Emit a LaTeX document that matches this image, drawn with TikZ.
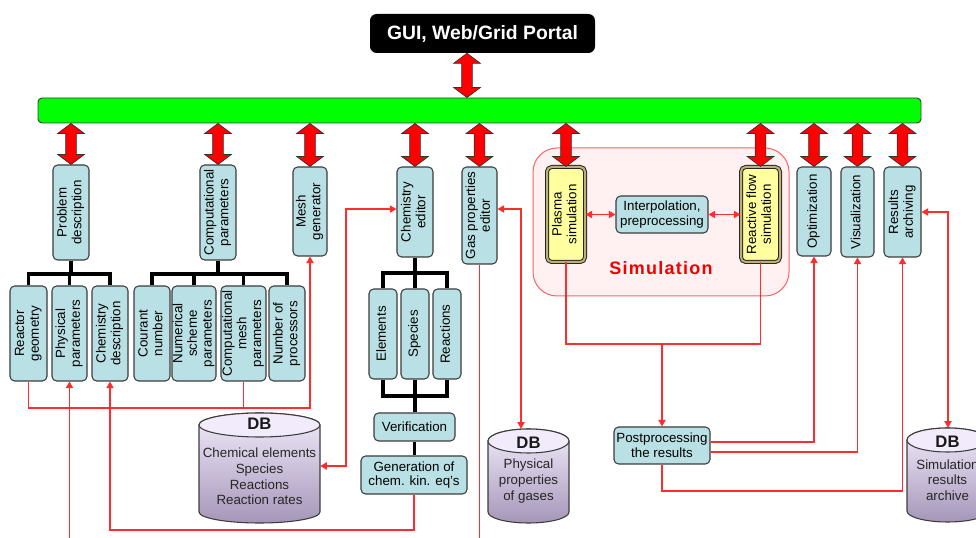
\documentclass[tikz,border=0pt]{standalone}
\usepackage{fontspec}
\setmainfont{Liberation Sans}
\usetikzlibrary{arrows.meta,calc}
\definecolor{boxfill}{RGB}{185,224,228}
\definecolor{boxline}{RGB}{60,60,60}
\definecolor{rl}{RGB}{255,45,45}
\definecolor{simfill}{RGB}{255,240,241}
\definecolor{simline}{RGB}{255,100,100}
\definecolor{yel}{RGB}{255,255,160}
\definecolor{dbltan}{RGB}{190,175,120}
\definecolor{dbtop}{RGB}{242,235,251}
\definecolor{dbbot}{RGB}{165,150,185}
\definecolor{green0}{RGB}{0,255,0}
\definecolor{simred}{RGB}{240,0,0}
\newcommand\vt[1]{\rotatebox{90}{\begin{tabular}{@{}c@{}}#1\end{tabular}}}
\newcommand\fatarrow[2]{\filldraw[fatarr] let \p1=#1, \p2=#2 in
  (\x1,\y1) -- ({\x1+10pt},{\y1-7.5pt}) -- ({\x1+4pt},{\y1-7.5pt}) -- ({\x1+4pt},{\y2+7.5pt})
  -- ({\x1+10pt},{\y2+7.5pt}) -- (\x1,\y2) -- ({\x1-10pt},{\y2+7.5pt}) -- ({\x1-4pt},{\y2+7.5pt})
  -- ({\x1-4pt},{\y1-7.5pt}) -- ({\x1-10pt},{\y1-7.5pt}) -- cycle;}
\newcommand\dbcyl[5]{%
  \node[dbanchor, minimum width=#4*0.75pt, minimum height=#5*0.75pt] (#1) at (#2,#3) {};
  \shade[top color=dbtop, bottom color=dbbot, draw=boxline, line width=0.8pt]
    ({#2-#4/2},{#3-#5/2+12}) -- ({#2-#4/2},{#3+#5/2-11})
    arc[start angle=180, end angle=0, x radius=#4/2, y radius=11]
    -- ({#2+#4/2},{#3-#5/2+12})
    arc[start angle=0, end angle=-180, x radius=#4/2, y radius=12] -- cycle;
  \filldraw[fill=dbtop, draw=boxline, line width=0.8pt] (#2,{#3-#5/2+12}) ellipse[x radius=#4/2, y radius=12];
}
\tikzset{
  box/.style={draw=boxline, fill=boxfill, rounded corners=3.5pt, line width=0.8pt, inner sep=0pt, align=center, font=\fontsize{10}{11}\selectfont},
  sz/.style 2 args={minimum width=#1*0.75pt, minimum height=#2*0.75pt},
  ybox/.style={box, fill=yel, draw=black!85, double=dbltan, double distance=1.5pt, line width=0.75pt},
  tree/.style={line width=2.8pt, black},
  rline/.style={draw=rl, line width=0.9pt},
  fatarr/.style={fill=red, draw=black!80, line width=0.5pt},
  dbanchor/.style={inner sep=0pt, draw=none},
  dbtitle/.style={font=\bfseries\fontsize{12.5}{14}\selectfont, text=black!90},
  dbtext/.style={font=\fontsize{10}{11.7}\selectfont, align=center, text=black!85},
  >={Triangle[length=5pt,width=5.5pt]}
}
\begin{document}
\begin{tikzpicture}[x=0.75pt, y=-0.75pt]
\useasboundingbox (0,0) rectangle (976,538);
\clip (0,0) rectangle (976,538);
\fill[white] (0,0) rectangle (976,538);

% top
\node[fill=black, rounded corners=5pt, sz={225}{39}, text=white, font=\bfseries\fontsize{14.5}{16}\selectfont] (gui) at (482.5,33.5) {GUI, Web/Grid Portal};
\node[fill=green0, draw=boxline, line width=0.7pt, rounded corners=3pt, sz={883}{25}] (bar) at (479.5,110.5) {};

% simulation group
\node[fill=simfill, draw=simline, line width=0.75pt, rounded corners=18pt, sz={256}{148}] (simg) at (661,222) {};
\node[text=simred, font=\bfseries\fontsize{13.5}{16}\selectfont\addfontfeature{LetterSpace=7}] (simlbl) at (661,268) {Simulation};

% upper boxes
\node[box, sz={36}{95}] (pd) at (71,212.5) {\vt{Problem\\description}};
\node[box, sz={36}{95}] (cp) at (218,212.5) {\vt{Computational\\parameters}};
\node[box, sz={34}{89}] (mg) at (310,211.5) {\vt{Mesh\\generator}};
\node[box, sz={36}{90}] (ce) at (415,212) {\vt{Chemistry\\editor}};
\node[box, sz={35}{97}] (gp) at (479.5,215.5) {\vt{Gas properties\\editor}};
\node[ybox, sz={38}{95}] (ps) at (566,214.5) {\vt{Plasma\\simulation}};
\node[box, sz={92}{37}] (ip) at (662,214.5) {Interpolation,\\preprocessing};
\node[ybox, sz={39}{95}] (rf) at (760.5,214.5) {\vt{Reactive flow\\simulation}};
\node[box, sz={34}{89}] (op) at (814,211.5) {\vt{Optimization}};
\node[box, sz={33}{90}] (vi) at (857.5,212) {\vt{Visualization}};
\node[box, sz={37}{90}] (ra) at (902.5,212) {\vt{Results\\archiving}};

% lower boxes
\node[box, sz={37}{95}] (rg) at (28.5,333.5) {\vt{Reactor\\geometry}};
\node[box, sz={35}{95}] (pp) at (69.5,333.5) {\vt{Physical\\parameters}};
\node[box, sz={36}{95}] (cd) at (110,333.5) {\vt{Chemistry\\description}};
\node[box, sz={36}{95}] (cn) at (152,333.5) {\vt{Courant\\number}};
\node[box, sz={42}{95}] (ns) at (194,333.5) {\vt{Numerical\\scheme\\parameters}};
\node[box, sz={45}{95}] (cm) at (243.5,333.5) {\vt{Computational\\mesh\\parameters}};
\node[box, sz={36}{95}] (np) at (287,333.5) {\vt{Number of\\processors}};
\node[box, sz={28}{90}] (el) at (383,334) {\vt{Elements}};
\node[box, sz={28}{90}] (sp) at (415,334) {\vt{Species}};
\node[box, sz={28}{90}] (re) at (447,334) {\vt{Reactions}};
\node[box, sz={81}{28}] (ve) at (414.5,427) {Verification};
\node[box, sz={106}{38}] (ge) at (414,475) {Generation of\\chem. kin. eq's};
\node[box, sz={96}{37}] (po) at (662,445.5) {Postprocessing\\the results};

% databases
\dbcyl{db1}{259.5}{468}{121}{110}
\node[dbtitle] (db1t) at (259.5,424) {DB};
\node[dbtext] (db1x) at (259.5,476.5) {Chemical elements\\Species\\Reactions\\Reaction rates};
\dbcyl{db2}{528.5}{476}{81}{94}
\node[dbtitle] (db2t) at (528.5,443) {DB};
\node[dbtext] (db2x) at (528.5,481) {Physical\\properties\\of gases};
\dbcyl{db3}{947.5}{475}{81}{94}
\node[dbtitle] (db3t) at (947.5,442) {DB};
\node[dbtext] (db3x) at (947.5,480) {Simulation\\results\\archive};

% fat arrows
\coordinate (ga) at (467,0);
\fatarrow{(gui.south -| ga)}{(bar.north -| ga)}
\foreach \b in {pd,cp,mg,ce,gp,ps,rf,op,vi,ra}{
  \fatarrow{(bar.south -| \b.north)}{(\b.north)}
}

% trees
\coordinate (pdj) at (71,274);
\draw[tree] (pd.south) -- (pdj);
\draw[tree] (rg.north) |- (pdj) -| (cd.north);
\draw[tree] (pp.north) -- (pp.north |- pdj);
\coordinate (cpj) at (218,274);
\draw[tree] (cp.south) -- (cpj);
\draw[tree] (cn.north) |- (cpj) -| (np.north);
\draw[tree] (ns.north) -- (ns.north |- cpj);
\draw[tree] (cm.north) -- (cm.north |- cpj);
\coordinate (cej) at (415,273);
\draw[tree] (ce.south) -- (cej);
\draw[tree] (el.north) |- (cej) -| (re.north);
\draw[tree] (sp.north) -- (sp.north |- cej);
\coordinate (vj) at (415,396);
\draw[tree] (el.south) |- (vj) -| (re.south);
\draw[tree] (sp.south) -- (sp.south |- ve.north);
\draw[tree] (ve.south) -- (ve.south |- ge.north);

% red connectors
\coordinate (w1) at (0,408);
\draw[rline,->] (rg.south) -- (rg.south |- w1) -| (mg.south);
\draw[rline] (cm.south) -- (cm.south |- w1);
\coordinate (w2) at (346,466);
\draw[rline,<->] (db1.east |- w2) -- (w2) |- ([yshift=2.2pt]ce.west);
\coordinate (w3) at (0,530);
\draw[rline,->] (ge.south) -- (ge.south |- w3) -| (cd.south);
\coordinate (bot) at (0,545);
\draw[rline,->] (pp.south |- bot) -- (pp.south);
\draw[rline] (gp.south) -- (gp.south |- bot);
\coordinate (w4) at (521,209);
\draw[rline,<->] (gp.east |- w4) -- (w4) -- (w4 |- db2.north);
\coordinate (w5) at (0,344);
\draw[rline] (ps.south) |- (rf.south |- w5) -- (rf.south);
\draw[rline,->] (po.north |- w5) -- (po.north);
\draw[rline,->] ([yshift=2.6pt]po.east) -| (op.south);
\draw[rline,->] ([yshift=-4.9pt]po.east) -| (vi.south);
\coordinate (w6) at (0,491);
\draw[rline,->] (po.south) -- (po.south |- w6) -| (ra.south);
\coordinate (w7) at (948,212);
\draw[rline,<->] (ra.east |- w7) -- (w7) -- (w7 |- db3.north);
\draw[rline,<->] (ps.east |- ip.west) -- (ip.west);
\draw[rline,<->] (ip.east) -- (rf.west |- ip.east);
\end{tikzpicture}
\end{document}
